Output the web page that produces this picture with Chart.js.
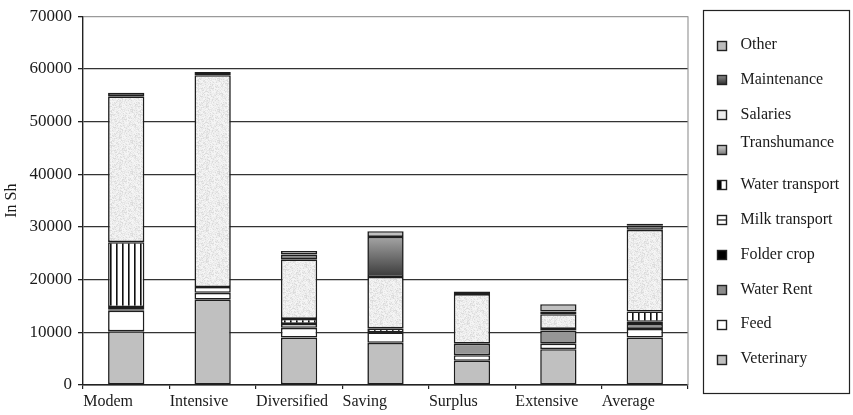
<!DOCTYPE html>
<html>
<head>
<meta charset="utf-8">
<title>Cost structure by farm type</title>
<style>
  html, body { margin: 0; padding: 0; background: #ffffff; }
  canvas { display: block; }
</style>
<script src="https://cdn.jsdelivr.net/npm/chart.js@4.4.1/dist/chart.umd.min.js"></script>
</head>
<body>
<canvas id="costs" width="853" height="415"></canvas>
<script>
// ---- data (Sh per farm, stacked from the bottom up) ----
const categories = ['Modem', 'Intensive', 'Diversified', 'Saving', 'Surplus', 'Extensive', 'Average'];

const veterinary     = [10200, 16200, 9000, 8000, 4600, 6800, 9000];
const feed           = [3900, 1300, 1850, 2000, 1050, 1050, 1650];
const waterRent      = [300, 0, 0, 0, 2200, 2500, 950];
const folderCrop     = [400, 0, 0, 0, 0, 300, 400];
const milkTransport  = [0, 1100, 750, 0, 0, 0, 0];
const waterTransport = [12300, 0, 950, 750, 0, 0, 1950];
const transhumance   = [0, 0, 0, 0, 0, 0, 0];
const salaries       = [27700, 40200, 11300, 9750, 9400, 2800, 15500];
const maintenance    = [650, 600, 900, 7600, 500, 500, 800];
const other          = [0, 0, 700, 1100, 0, 1400, 350];

const seriesNames = ['Veterinary', 'Feed', 'Water Rent', 'Folder crop', 'Milk transport',
                     'Water transport', 'Transhumance', 'Salaries', 'Maintenance', 'Other'];
const seriesValues = [veterinary, feed, waterRent, folderCrop, milkTransport,
                      waterTransport, transhumance, salaries, maintenance, other];

const yTickValues = [0, 10000, 20000, 30000, 40000, 50000, 60000, 70000];
const yAxisTitle = 'In Sh';

// ---- fills ----
const canvas = document.getElementById('costs');
const ctx2d = canvas.getContext('2d');

function tile(w, h, paint) {
  const c = document.createElement('canvas');
  c.width = w; c.height = h;
  paint(c.getContext('2d'), w, h);
  return ctx2d.createPattern(c, 'repeat');
}

// soft light-grey stipple used for salaries
const stipple = tile(29, 31, (g, w, h) => {
  const img = g.createImageData(w, h);
  for (let y = 0; y < h; y++) {
    for (let x = 0; x < w; x++) {
      const k = ((x * 37 + y * 91 + ((x * y) % 13) * 7) % 19);
      const v = k < 3 ? 220 : (k < 7 ? 230 : (k < 14 ? 238 : 245));
      const i = (y * w + x) * 4;
      img.data[i] = img.data[i + 1] = img.data[i + 2] = v;
      img.data[i + 3] = 255;
    }
  }
  g.putImageData(img, 0, 0);
});

// vertical bars for water transport
const vStripes = tile(6, 6, (g) => {
  g.fillStyle = '#ffffff'; g.fillRect(0, 0, 6, 6);
  g.fillStyle = '#111111'; g.fillRect(2, 0, 1.6, 6);
});

// horizontal rules for milk transport
const hStripes = tile(6, 5, (g) => {
  g.fillStyle = '#ffffff'; g.fillRect(0, 0, 6, 5);
  g.fillStyle = '#111111'; g.fillRect(0, 2, 6, 1.2);
});

function stackBase(seriesIdx, i) {
  let s = 0;
  for (let k = 0; k < seriesIdx; k++) s += seriesValues[k][i];
  return s;
}

// shaded fill running dark at the bottom of each segment to light at its top
function shaded(seriesIdx, light, dark) {
  return (c) => {
    const chart = c.chart;
    const y = chart.scales && chart.scales.y;
    if (!y || c.dataIndex === undefined) return dark;
    const base = stackBase(seriesIdx, c.dataIndex);
    const top = base + seriesValues[seriesIdx][c.dataIndex];
    const y0 = y.getPixelForValue(base), y1 = y.getPixelForValue(top);
    if (!isFinite(y0) || !isFinite(y1) || y0 === y1) return dark;
    const g = chart.ctx.createLinearGradient(0, y1, 0, y0);
    g.addColorStop(0, light);
    g.addColorStop(1, dark);
    return g;
  };
}

const fills = [
  '#c0c0c0',                          // Veterinary
  '#ffffff',                          // Feed
  '#969696',                          // Water Rent
  '#000000',                          // Folder crop
  hStripes,                           // Milk transport
  vStripes,                           // Water transport
  shaded(6, '#c8c8c8', '#808080'),    // Transhumance
  stipple,                            // Salaries
  shaded(8, '#a4a4a4', '#3a3a3a'),    // Maintenance
  '#c0c0c0'                           // Other
];

// legend swatch painters
const swatch = [
  (g, x, y, s) => { g.fillStyle = '#c0c0c0'; g.fillRect(x, y, s, s); },
  (g, x, y, s) => { g.fillStyle = '#ffffff'; g.fillRect(x, y, s, s); },
  (g, x, y, s) => { g.fillStyle = '#8c8c8c'; g.fillRect(x, y, s, s); },
  (g, x, y, s) => { g.fillStyle = '#000000'; g.fillRect(x, y, s, s); },
  (g, x, y, s) => { g.fillStyle = '#ffffff'; g.fillRect(x, y, s, s);
                    g.fillStyle = '#111'; g.fillRect(x, y + s / 2 - 0.6, s, 1.2); },
  (g, x, y, s) => { g.fillStyle = '#ffffff'; g.fillRect(x, y, s, s);
                    g.fillStyle = '#000'; g.fillRect(x, y, s * 0.45, s); },
  (g, x, y, s) => { const gr = g.createLinearGradient(0, y, 0, y + s);
                    gr.addColorStop(0, '#d0d0d0'); gr.addColorStop(1, '#7a7a7a');
                    g.fillStyle = gr; g.fillRect(x, y, s, s); },
  (g, x, y, s) => { g.fillStyle = '#ececec'; g.fillRect(x, y, s, s); },
  (g, x, y, s) => { const gr = g.createLinearGradient(0, y, 0, y + s);
                    gr.addColorStop(0, '#8a8a8a'); gr.addColorStop(1, '#2e2e2e');
                    g.fillStyle = gr; g.fillRect(x, y, s, s); },
  (g, x, y, s) => { g.fillStyle = '#bdbdbd'; g.fillRect(x, y, s, s); }
];

const serif = "'Liberation Serif', 'Times New Roman', serif";
const ink = '#1a1a1a';

// empty segments are left out so that they leave no outline on the stack
const datasets = seriesNames.map((name, k) => ({
  label: name,
  data: seriesValues[k].map(v => (v === 0 ? null : v)),
  backgroundColor: fills[k],
  borderColor: '#1e1e1e',
  borderWidth: 1.6,
  borderSkipped: false,
  categoryPercentage: 1.0,
  barPercentage: 0.42
}));

// framed legend at the right, plus the light right-hand edge of the plot
const framedLegend = {
  id: 'framedLegend',
  afterDraw(chart) {
    const g = chart.ctx;
    const a = chart.chartArea;
    g.save();
    g.strokeStyle = '#9a9a9a';
    g.lineWidth = 1.2;
    g.beginPath();
    g.moveTo(a.right, a.top);
    g.lineTo(a.right, a.bottom);
    g.stroke();

    const bx = a.right + 15.5, by = 10.5, bw = 146, bh = 383;
    g.strokeStyle = '#222';
    g.lineWidth = 1.2;
    g.strokeRect(bx, by, bw, bh);

    const step = 34.9, first = 45, s = 9;
    g.font = '16px ' + serif;
    g.fillStyle = ink;
    g.textBaseline = 'middle';
    g.textAlign = 'left';
    for (let r = 0; r < seriesNames.length; r++) {
      const k = seriesNames.length - 1 - r;
      const cy = first + r * step;
      const sx = bx + 14, sy = Math.round(cy - s / 2) + 0.5;
      swatch[k](g, sx, sy, s);
      g.strokeStyle = '#222';
      g.lineWidth = 1.4;
      g.strokeRect(sx, sy, s, s);
      g.fillStyle = ink;
      const dy = seriesNames[k] === 'Transhumance' ? -7 : 0;
      g.fillText(seriesNames[k], bx + 37, cy + dy);
    }
    g.restore();
  }
};

new Chart(canvas, {
  type: 'bar',
  data: { labels: categories, datasets },
  options: {
    responsive: false,
    animation: false,
    devicePixelRatio: 1,
    layout: { padding: { top: 12, right: 165, bottom: 0, left: 0 } },
    plugins: {
      legend: { display: false },
      tooltip: { enabled: false }
    },
    scales: {
      x: {
        stacked: true,
        afterFit: (s) => { s.height = 30; },
        grid: {
          offset: true,
          drawOnChartArea: false,
          drawTicks: true,
          tickLength: 4,
          tickColor: '#222',
          lineWidth: 1.2
        },
        border: { display: true, color: '#222', width: 1.4 },
        ticks: {
          font: { family: serif, size: 16 },
          color: ink,
          align: 'start',
          labelOffset: -43,
          padding: 3,
          autoSkip: false,
          maxRotation: 0
        }
      },
      y: {
        stacked: true,
        min: yTickValues[0],
        max: yTickValues[yTickValues.length - 1],
        afterFit: (s) => { s.width = 83; },
        afterBuildTicks: (s) => { s.ticks = yTickValues.map(v => ({ value: v })); },
        grid: {
          color: (c) => (c.tick && c.tick.value === yTickValues[yTickValues.length - 1]) ? '#9a9a9a' : '#333333',
          lineWidth: 1.3,
          tickLength: 5,
          tickColor: '#222'
        },
        border: { display: true, color: '#222', width: 1.4 },
        ticks: {
          font: { family: serif, size: 17 },
          color: ink,
          padding: 6,
          callback: (v) => String(v)
        },
        title: {
          display: true,
          text: yAxisTitle,
          font: { family: serif, size: 16 },
          color: ink,
          padding: { top: 2, bottom: 0 }
        }
      }
    }
  },
  plugins: [framedLegend]
});
</script>
</body>
</html>
